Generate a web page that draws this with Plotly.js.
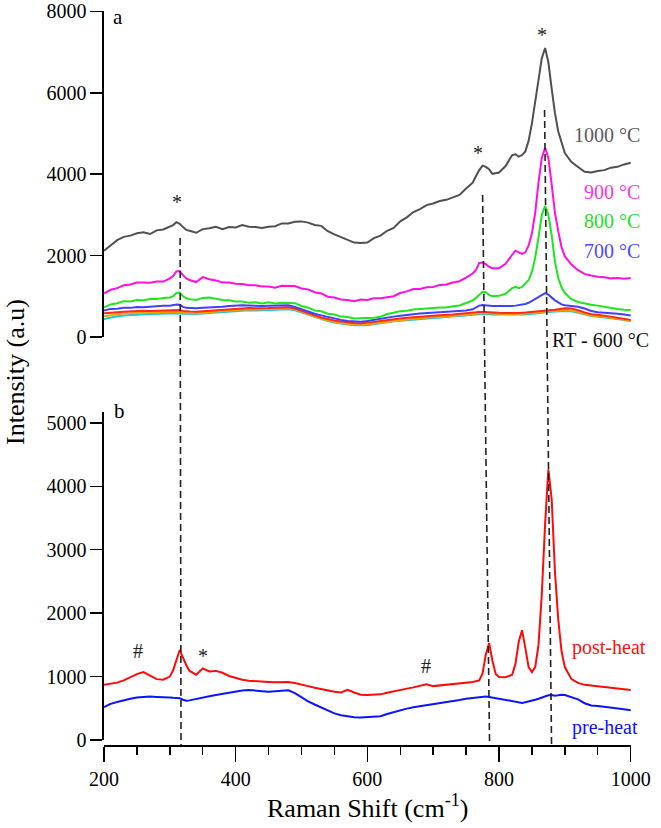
<!DOCTYPE html>
<html>
<head>
<meta charset="utf-8">
<script src="https://cdn.plot.ly/plotly-3.0.1.min.js"></script>
<style>
  html, body { margin: 0; padding: 0; background: #fff; }
  #chart { width: 661px; height: 828px; }
</style>
</head>
<body>
<div id="chart"></div>
<script>
// Raman shift grids (cm^-1): panel a (heating series) and panel b (pre/post heat)
const shiftA = [200,210,220,230,240,250,260,270,280,290,300,305,310,315,320,325,330,
  340,350,360,370,380,390,400,410,420,430,440,450,460,470,480,490,500,510,520,530,540,550,
  560,570,580,590,600,610,620,630,640,650,660,670,680,690,700,710,720,730,740,750,760,
  765,770,775,780,785,790,800,810,820,825,830,835,840,845,850,855,860,865,870,875,880,
  885,890,895,900,910,920,930,940,950,960,970,980,990,1000];

const shiftB = [200,210,220,230,240,250,260,270,280,290,300,305,310,315,320,325,330,
  340,350,360,370,380,390,400,410,420,430,440,450,460,470,480,490,500,510,520,530,540,550,
  560,570,580,590,600,610,620,630,640,650,660,670,680,690,700,710,720,730,740,750,760,770,
  775,780,785,790,795,800,810,820,825,830,835,840,845,850,855,860,865,870,875,880,
  885,890,895,900,910,920,930,940,950,960,970,980,990,1000];

// Panel a intensities (a.u)
const t1000 = [2120,2260,2380,2460,2490,2550,2570,2530,2620,2640,2710,2750,2820,2780,2700,2630,2610,
  2560,2650,2670,2710,2650,2700,2690,2750,2710,2700,2680,2710,2720,2790,2790,2830,2840,2810,2750,2730,2600,2520,
  2450,2390,2320,2310,2320,2430,2490,2610,2680,2840,2940,3070,3140,3240,3280,3340,3370,3430,3490,3650,3790,
  3950,4100,4210,4180,4120,4010,4040,4200,4470,4490,4430,4470,4560,4820,5250,5750,6300,6850,7100,6750,6100,
  5500,5050,4750,4520,4300,4170,4060,4040,4080,4100,4160,4180,4240,4280];

const t900 = [1070,1160,1200,1270,1290,1340,1340,1330,1360,1360,1440,1500,1610,1620,1520,1440,1400,
  1350,1470,1420,1390,1340,1340,1310,1300,1270,1270,1240,1240,1210,1260,1250,1250,1190,1170,1100,1070,990,970,
  920,910,880,920,910,950,950,980,1000,1080,1120,1180,1180,1220,1230,1280,1290,1340,1370,1460,1560,
  1650,1820,1830,1790,1720,1690,1690,1800,2020,2120,2080,2040,2080,2250,2550,3050,3800,4400,4650,4400,3750,
  3050,2600,2200,1980,1780,1640,1550,1510,1480,1470,1440,1450,1430,1450];

const t800 = [730,800,830,880,870,910,900,930,930,960,970,1000,1080,1090,1000,950,930,
  910,960,970,940,910,900,870,870,840,850,820,850,820,840,830,830,760,720,650,630,570,550,
  500,490,455,460,455,475,495,565,595,635,645,675,685,705,710,725,725,755,775,835,900,
  960,1040,1110,1100,1030,1000,1010,1060,1200,1230,1200,1230,1310,1400,1600,1950,2450,3000,3220,3000,2500,
  1850,1450,1220,1080,930,860,820,790,770,740,710,690,670,660];

const t700 = [650,690,695,715,715,735,730,745,745,765,765,780,800,790,740,715,710,
  705,715,720,730,740,760,775,780,775,765,760,765,770,775,780,740,680,620,570,530,490,460,
  420,395,380,375,390,420,450,480,500,520,545,560,575,585,595,600,610,620,630,650,680,
  720,770,785,775,760,760,760,755,760,770,780,790,810,840,890,950,1000,1050,1080,1040,960,
  900,850,800,780,760,740,700,640,610,600,590,570,550,530];

// RT - 600 °C spectra (nearly overlapping)
const tRTa = [580,600,610,620,630,640,645,640,645,650,650,655,665,660,640,630,625,
  620,630,640,650,665,680,695,705,710,705,700,710,720,725,730,700,640,580,530,480,440,405,
  380,360,345,340,345,365,395,420,440,455,470,485,500,515,525,535,545,555,565,580,595,
  605,615,620,615,610,600,595,590,585,585,590,595,600,610,620,630,640,650,660,665,665,
  670,680,695,705,700,660,600,560,545,530,500,470,440,420];

const tRTb = [510,540,560,575,585,595,600,600,605,610,610,615,620,618,600,590,585,
  585,595,605,620,635,650,665,675,680,675,675,685,695,700,705,680,620,560,505,455,410,375,
  345,325,310,305,310,330,360,385,405,420,435,450,465,480,490,500,510,520,530,545,560,
  570,580,590,590,585,575,570,565,560,560,565,570,575,585,595,605,615,625,635,640,640,
  645,650,655,660,650,620,570,530,515,500,475,450,425,405];

const tRTc = [440,480,510,525,540,550,560,565,570,575,575,578,580,580,570,565,565,
  565,575,585,600,615,630,640,650,655,650,650,660,670,675,680,655,600,540,485,435,390,355,
  325,305,290,285,290,310,340,365,385,400,415,430,445,460,470,480,490,500,510,525,540,
  550,560,565,565,560,555,550,545,540,540,545,550,555,565,575,585,595,605,615,620,620,
  625,630,635,640,630,600,555,515,500,485,460,440,415,395];

// Panel b intensities (a.u)
const postHeat = [870,890,905,940,990,1040,1070,1010,960,950,1000,1100,1260,1420,1300,1180,1090,
  1030,1130,1080,1090,1060,1010,980,950,935,925,920,915,910,915,915,900,870,850,825,800,780,760,
  750,790,750,715,710,710,720,745,770,790,810,830,850,880,850,860,875,890,900,905,915,940,
  1050,1350,1530,1250,1040,995,990,1030,1200,1550,1730,1450,1150,1070,1150,1500,2300,3400,4270,3800,
  2650,1900,1400,1150,960,900,870,860,850,840,820,810,800,790];

const preHeat = [520,570,600,630,650,670,680,685,680,680,670,665,665,660,635,620,625,
  650,670,690,710,730,750,765,780,790,785,770,760,770,780,785,740,670,610,560,510,460,420,
  390,370,360,355,360,360,375,410,440,470,495,515,530,545,560,575,590,610,630,650,665,675,
  680,685,680,670,660,645,625,605,595,590,585,595,605,620,635,650,670,690,705,710,
  700,705,715,710,680,640,580,545,535,525,515,500,485,470];

// Dashed guide lines joining the two panels: [cm^-1 at top, cm^-1 at bottom, top height (paper)]
const guideTop = [315.6, 775.1, 869.2];
const guideBottom = [317.0, 785.7, 879.8];
const guideTopY = [0.6907, 0.7493, 0.8651];

const SERIF = 'Liberation Serif';

function line(x, y, color, xa, ya) {
  return { x: x, y: y, type: 'scatter', mode: 'lines', xaxis: xa, yaxis: ya,
    line: { color: color, width: 2 }, hoverinfo: 'skip', showlegend: false };
}

const data = [
  line(shiftA, tRTc, '#19c8d2', 'x2', 'y2'),
  line(shiftA, tRTb, '#ffa000', 'x2', 'y2'),
  line(shiftA, tRTa, '#ff2a1a', 'x2', 'y2'),
  line(shiftA, t700, '#4040ff', 'x2', 'y2'),
  line(shiftA, t800, '#1ee61e', 'x2', 'y2'),
  line(shiftA, t900, '#ff10e0', 'x2', 'y2'),
  line(shiftA, t1000, '#505050', 'x2', 'y2'),
  line(shiftB, preHeat, '#0a14ff', 'x', 'y'),
  line(shiftB, postHeat, '#ff0a0a', 'x', 'y')
];

const shapes = guideTop.map((xt, i) => ({
  type: 'line', xref: 'x', yref: 'paper',
  x0: xt, x1: guideBottom[i], y0: guideTopY[i], y1: 0,
  line: { color: '#222', width: 1.6, dash: '7px,4px' }
}));

function txt(x, y, text, color, size, anchor) {
  return { xref: 'paper', yref: 'paper', x: x, y: y, text: text, showarrow: false,
    xanchor: anchor || 'left', yanchor: 'middle',
    font: { family: SERIF, size: size || 20, color: color || '#000' } };
}
// pixel helpers for the 104..631 x 11..745 plotting box
const px = v => (v - 104) / 527;
const py = v => (745 - v) / 734;

const annotations = [
  txt(px(111), py(17), 'a', '#000', 21),
  txt(px(112), py(411), 'b', '#000', 21),
  txt(px(572), py(135), '1000 °C', '#5a5a5a', 20),
  txt(px(582), py(192), '900 °C', '#ff33dd', 20),
  txt(px(582), py(221), '800 °C', '#22e022', 20),
  txt(px(582), py(251), '700 °C', '#4a4aff', 20),
  txt(px(550), py(340), 'RT - 600 °C', '#111', 20),
  txt(px(570), py(647), 'post-heat', '#ff1010', 20),
  txt(px(570), py(727), 'pre-heat', '#1010ff', 20),
  txt(px(177), py(202), '*', '#222', 20, 'center'),
  txt(px(478), py(153), '*', '#222', 20, 'center'),
  txt(px(542), py(35), '*', '#222', 20, 'center'),
  txt(px(138), py(651), '#', '#222', 20, 'center'),
  txt(px(203), py(656), '*', '#222', 20, 'center'),
  txt(px(426), py(666), '#', '#222', 20, 'center'),
  Object.assign(txt(px(15), py(372), 'Intensity (a.u)', '#000', 26, 'center'), { textangle: -90 }),
  txt(px(367), py(806), 'Raman Shift (cm<sup>-1</sup>)', '#000', 26, 'center')
];

const axisCommon = {
  showgrid: false, zeroline: false, showline: true, linecolor: '#000', linewidth: 1.6,
  ticks: 'outside', tickcolor: '#000', tickwidth: 1.4, ticklabeloverflow: 'allow',
  tickfont: { family: SERIF, size: 20, color: '#000' }
};

const layout = {
  width: 661, height: 828,
  margin: { l: 104, r: 30, t: 11, b: 83 },
  paper_bgcolor: '#fff', plot_bgcolor: '#fff',
  font: { family: SERIF, color: '#000' },
  showlegend: false,
  xaxis: Object.assign({}, axisCommon, {
    domain: [0, 1], range: [200, 1000.5], anchor: 'free', position: 0,
    tickmode: 'linear', tick0: 200, dtick: 200, ticklen: 15,
    minor: { dtick: 50, ticks: 'outside', ticklen: 8, tickcolor: '#000', tickwidth: 1.4, showgrid: false }
  }),
  yaxis: Object.assign({}, axisCommon, {
    domain: [0.0068, 0.4537], range: [0, 5173], anchor: 'x',
    tickmode: 'linear', tick0: 0, dtick: 1000, ticklen: 12
  }),
  xaxis2: { domain: [0, 1], range: [200, 1000.5], anchor: 'y2', visible: false },
  yaxis2: Object.assign({}, axisCommon, {
    domain: [0.5559, 1], range: [0, 8010], anchor: 'x2',
    tickmode: 'linear', tick0: 0, dtick: 2000, ticklen: 12
  }),
  shapes: shapes,
  annotations: annotations
};

Plotly.newPlot('chart', data, layout, { displayModeBar: false, staticPlot: true });
</script>
</body>
</html>
